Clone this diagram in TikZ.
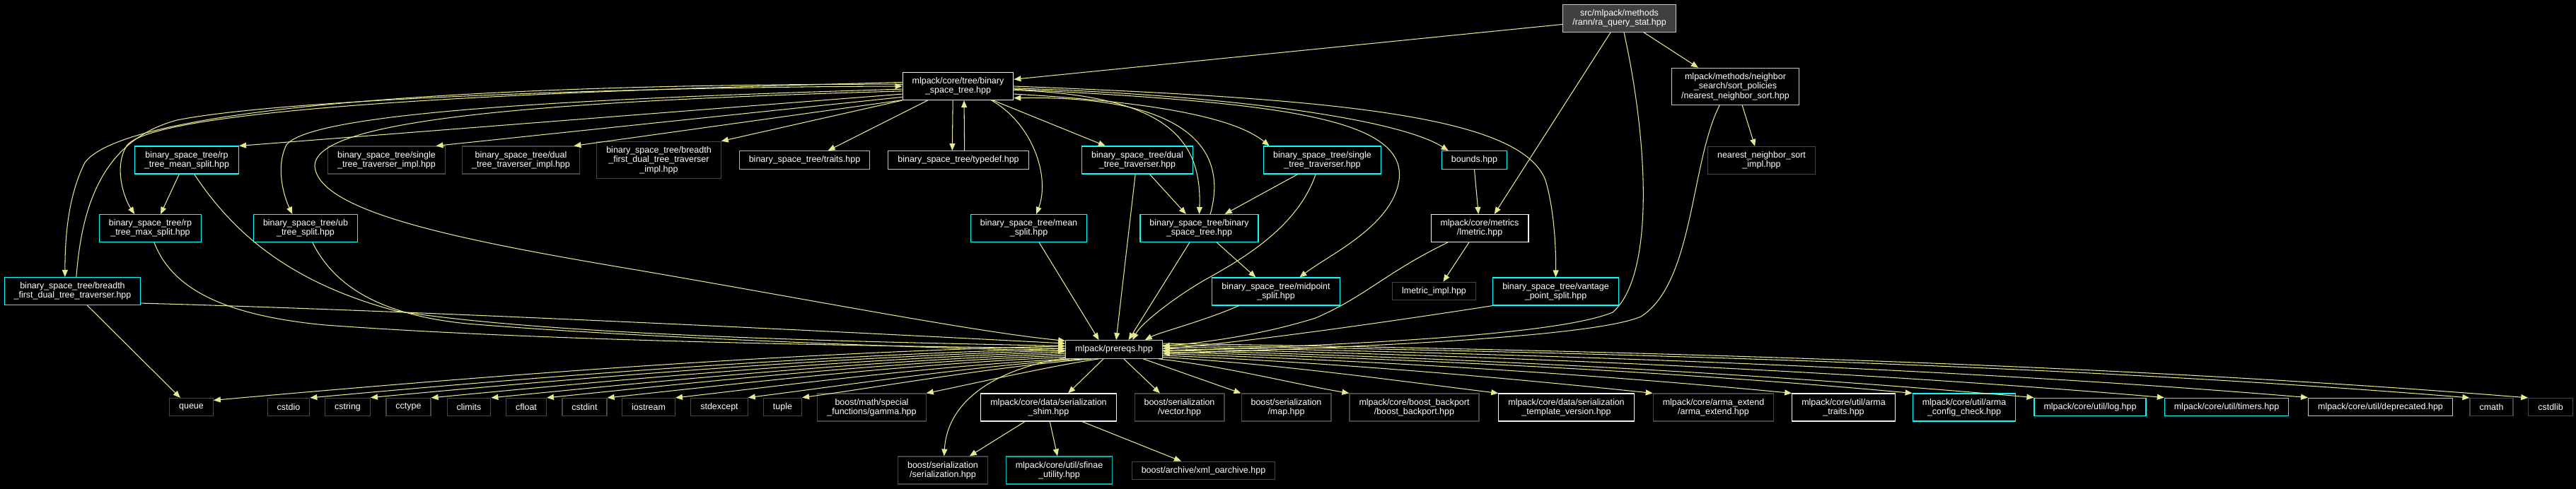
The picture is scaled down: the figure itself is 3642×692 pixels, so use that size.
\documentclass[tikz,border=0pt]{standalone}
\usepackage{fontspec}
\setmainfont{Liberation Sans}
\usepackage{tikz}
\usetikzlibrary{arrows.meta}
\definecolor{edgekhaki}{RGB}{232,232,144}
\definecolor{borddark} {RGB}{70,70,70}
\definecolor{bordlight}{RGB}{200,200,200}
\definecolor{bordwhite}{RGB}{240,240,240}
\definecolor{bordcyan} {RGB}{0,255,255}
\definecolor{bordteal} {RGB}{0,180,180}
\definecolor{rootfill} {RGB}{64,64,64}
\newcommand{\hdrfont}{\fontsize{7.1}{7.6}\selectfont}
\tikzset{
  hdr/.style={draw=borddark,fill=black,text=white,font=\hdrfont,
              align=center,inner xsep=0.27cm,inner ysep=0.14cm,
              minimum height=0.5cm,line width=0.65pt},
  hdrcyan/.style={hdr,draw=bordcyan},
  hdrteal/.style={hdr,draw=bordteal},
  hdrlight/.style={hdr,draw=bordlight},
  hdrwhite/.style={hdr,draw=bordwhite},
  hdrroot/.style={hdr,draw=bordlight,fill=rootfill},
  inc/.style={-{Triangle[length=0.2cm,width=0.16cm]},draw=edgekhaki,
              fill=none,line width=0.6pt},
}
\begin{document}
\begin{tikzpicture}[x=0.02cm,y=-0.02cm]
  \path[use as bounding box,fill=black] (0,0) rectangle (3642,692);

  \node[hdrroot] (ra) at (2289.5,26) {src/mlpack/methods\\/rann/ra\_query\_stat.hpp};
  \node[hdrwhite] (bst) at (1354.5,122) {mlpack/core/tree/binary\\\_space\_tree.hpp};
  \node[hdrlight] (nns) at (2453.5,122.5) {mlpack/methods/neighbor\\\_search/sort\_policies\\/nearest\_neighbor\_sort.hpp};
  \node[hdr] (nnsimpl) at (2490.5,227) {nearest\_neighbor\_sort\\\_impl.hpp};

  \node[hdrcyan] (rpmean) at (264,226.5) {binary\_space\_tree/rp\\\_tree\_mean\_split.hpp};
  \node[hdr] (stimpl) at (546.5,226.5) {binary\_space\_tree/single\\\_tree\_traverser\_impl.hpp};
  \node[hdr] (dtimpl) at (736.5,226.5) {binary\_space\_tree/dual\\\_tree\_traverser\_impl.hpp};
  \node[hdr] (bfimpl) at (931.5,226.5) {binary\_space\_tree/breadth\\\_first\_dual\_tree\_traverser\\\_impl.hpp};
  \node[hdrcyan] (traits) at (1137.5,226.5) {binary\_space\_tree/traits.hpp};
  \node[hdrlight] (typedef) at (1355,226.5) {binary\_space\_tree/typedef.hpp};
  \node[hdrcyan] (dtt) at (1608,226.5) {binary\_space\_tree/dual\\\_tree\_traverser.hpp};
  \node[hdrcyan] (stt) at (1869.5,226.5) {binary\_space\_tree/single\\\_tree\_traverser.hpp};
  \node[hdrcyan] (bounds) at (2084.5,226.5) {bounds.hpp};

  \node[hdrcyan] (rpmax) at (212.5,323) {binary\_space\_tree/rp\\\_tree\_max\_split.hpp};
  \node[hdrcyan] (ub) at (432,323) {binary\_space\_tree/ub\\\_tree\_split.hpp};
  \node[hdrcyan] (meansplit) at (1454.5,323) {binary\_space\_tree/mean\\\_split.hpp};
  \node[hdrcyan] (bstbst) at (1695.5,323) {binary\_space\_tree/binary\\\_space\_tree.hpp};
  \node[hdrwhite] (lmetric) at (2092,323) {mlpack/core/metrics\\/lmetric.hpp};

  \node[hdrcyan] (bf) at (102.5,412) {binary\_space\_tree/breadth\\\_first\_dual\_tree\_traverser.hpp};
  \node[hdrcyan] (midpoint) at (1804,412.5) {binary\_space\_tree/midpoint\\\_split.hpp};
  \node[hdr] (lmetricimpl) at (2027.5,412) {lmetric\_impl.hpp};
  \node[hdrcyan] (vantage) at (2199.5,412.5) {binary\_space\_tree/vantage\\\_point\_split.hpp};

  \node[hdrlight] (prereqs) at (1575,494.5) {mlpack/prereqs.hpp};

  \node[hdr] (queue) at (270.5,576) {queue};
  \node[hdr] (cstdio) at (408,576) {cstdio};
  \node[hdr] (cstring) at (491.5,576) {cstring};
  \node[hdr] (cctype) at (577.5,576) {cctype};
  \node[hdr] (climits) at (663,576) {climits};
  \node[hdr] (cfloat) at (744,576) {cfloat};
  \node[hdr] (cstdint) at (826.5,576) {cstdint};
  \node[hdr] (iostream) at (917,576) {iostream};
  \node[hdr] (stdexcept) at (1017,576) {stdexcept};
  \node[hdr] (tuple) at (1106.5,576) {tuple};
  \node[hdr] (gamma) at (1232.5,576.5) {boost/math/special\\\_functions/gamma.hpp};
  \node[hdrwhite] (shim) at (1482.5,576.5) {mlpack/core/data/serialization\\\_shim.hpp};
  \node[hdr] (vector) at (1667.5,576.5) {boost/serialization\\/vector.hpp};
  \node[hdr] (map) at (1818.5,576.5) {boost/serialization\\/map.hpp};
  \node[hdr] (backport) at (1999.5,576.5) {mlpack/core/boost\_backport\\/boost\_backport.hpp};
  \node[hdrwhite] (tmplver) at (2214.5,576.5) {mlpack/core/data/serialization\\\_template\_version.hpp};
  \node[hdr] (armaext) at (2422.5,576.5) {mlpack/core/arma\_extend\\/arma\_extend.hpp};
  \node[hdrwhite] (armatraits) at (2606.5,576.5) {mlpack/core/util/arma\\\_traits.hpp};
  \node[hdrcyan] (armacfg) at (2777,576.5) {mlpack/core/util/arma\\\_config\_check.hpp};
  \node[hdrcyan] (log) at (2955,576) {mlpack/core/util/log.hpp};
  \node[hdrcyan] (timers) at (3148,576) {mlpack/core/util/timers.hpp};
  \node[hdrlight] (deprecated) at (3365.5,576) {mlpack/core/util/deprecated.hpp};
  \node[hdr] (cmath) at (3522.5,576) {cmath};
  \node[hdr] (cstdlib) at (3606,576) {cstdlib};

  \node[hdr] (sershp) at (1333,665.5) {boost/serialization\\/serialization.hpp};
  \node[hdrteal] (sfinae) at (1497.5,665.5) {mlpack/core/util/sfinae\\\_utility.hpp};
  \node[hdr] (xml) at (1701.5,666) {boost/archive/xml\_oarchive.hpp};

  \draw[inc] (ra.186) -- (bst.7);
  \draw[inc] (ra.238) -- (lmetric.44);
  \draw[inc] (ra.-30) -- (nns.153);
  \draw[inc] (ra.288) .. controls (2330,200) and (2340,390) .. (2280,442)
             .. controls (2200,475) and (1900,488) .. (prereqs.-2);
  \draw[inc] (nns.-70) -- (nnsimpl.115);
  \draw[inc] (nns.230) .. controls (2390,230) and (2395,400) .. (2320,448)
             .. controls (2250,478) and (1900,492) .. (prereqs.-5);

  \draw[inc] (bst.188) -- (rpmean.north east);
  \draw[inc] (bst.191) -- (stimpl.16);
  \draw[inc] (bst.194) -- (dtimpl.15);
  \draw[inc] (bst.south west) -- (bfimpl.north east);
  \draw[inc] (bst.205) -- (traits.22);
  \draw[inc] (bst.250) -- (typedef.123);
  \draw[inc] (typedef.57) -- (bst.293);
  \draw[inc] (bst.-23) .. controls (1460,175) and (1485,250) .. (meansplit.62);
  \draw[inc] (bst.-22) -- (dtt.156);
  \draw[inc] (bst.-4) .. controls (1640,135) and (1700,190) .. (bstbst.north);
  \draw[inc] (bstbst.52) .. controls (1740,200) and (1660,135) .. (bst.-12);
  \draw[inc] (bst.-8) .. controls (1650,145) and (1750,170) .. (stt.165);
  \draw[inc] (bst.-2) .. controls (1750,135) and (1980,170) .. (bounds.160);
  \draw[inc] (bst.-3) .. controls (1800,145) and (1990,165) .. (1978,255)
             .. controls (1968,320) and (1880,360) .. (midpoint.31);
  \draw[inc] (bst.0) .. controls (1900,140) and (2150,165) .. (2185,255)
             .. controls (2197,295) and (2200,350) .. (vantage.north);
  \draw[inc] (bst.176) .. controls (800,128) and (230,150) .. (180,205)
             .. controls (160,235) and (175,280) .. (rpmax.138);
  \draw[inc] (bst.183) .. controls (800,140) and (440,160) .. (405,205)
             .. controls (390,235) and (400,275) .. (ub.133);
  \draw[inc] (bst.178) .. controls (700,118) and (180,150) .. (120,230)
             .. controls (95,280) and (92,340) .. (bf.118);
  \draw[inc] (bf.75) .. controls (115,300) and (140,200) .. (250,170)
             .. controls (400,140) and (900,123) .. (bst.180);
  \draw[inc] (bst.185) .. controls (700,145) and (445,175) .. (445,235)
             .. controls (450,300) and (650,340) .. (900,382)
             .. controls (1150,425) and (1380,470) .. (prereqs.170);

  \draw[inc] (rpmean.242) -- (rpmax.54);
  \draw[inc] (rpmean.-62) .. controls (330,330) and (410,400) .. (560,440)
             .. controls (800,478) and (1300,485) .. (prereqs.176);
  \draw[inc] (rpmax.-75) .. controls (240,400) and (300,445) .. (460,460)
             .. controls (800,485) and (1300,490) .. (prereqs.179);
  \draw[inc] (ub.-64) .. controls (470,400) and (530,445) .. (660,458)
             .. controls (900,478) and (1300,492) .. (prereqs.182);
  \draw[inc] (bf.-10) .. controls (600,440) and (1200,470) .. (prereqs.173);
  \draw[inc] (bf.-44) -- (queue.140);

  \draw[inc] (meansplit.-54) -- (prereqs.148);
  \draw[inc] (dtt.-98) -- (prereqs.77);
  \draw[inc] (dtt.-49) -- (bstbst.133);
  \draw[inc] (bstbst.236) -- (prereqs.33);
  \draw[inc] (bstbst.-39) -- (midpoint.145);
  \draw[inc] (stt.210) -- (bstbst.29);
  \draw[inc] (stt.245) .. controls (1835,320) and (1760,365) .. (1700,398)
             .. controls (1650,428) and (1612,460) .. (prereqs.27);
  \draw[inc] (midpoint.201) .. controls (1700,455) and (1640,470) .. (prereqs.17);
  \draw[inc] (bounds.south) -- (lmetric.95);
  \draw[inc] (lmetric.233) -- (lmetricimpl.46);
  \draw[inc] (lmetric.204) .. controls (1960,385) and (1930,420) .. (1860,450)
             .. controls (1780,475) and (1700,485) .. (prereqs.4);
  \draw[inc] (vantage.south west) .. controls (2000,450) and (1760,485) .. (prereqs.1);

  \draw[inc] (prereqs.176) .. controls +(-420,10) and +(360,-32) .. (queue.17);
  \foreach \n/\L/\a in {cstdio/1070/179,cstring/985/181,cctype/899/183,
      climits/814/185,cfloat/736/187,cstdint/650/189,iostream/554/192,
      stdexcept/450/197,tuple/375/203,gamma/197/212}
    \draw[inc] (prereqs.\a) .. controls +(-0.35*\L,10) and +(0.3*\L,-0.02*\L-8) .. (\n.north east);
  \foreach \n/\L/\a in {backport/263/-12,tmplver/474/-9,armaext/694/-7,
      armatraits/890/-5,armacfg/1061/-3,log/1232/-1,timers/1416/1,
      deprecated/1619/3,cmath/1850/5,cstdlib/1933/7}
    \draw[inc] (prereqs.\a) .. controls +(0.35*\L,10) and +(-0.3*\L,-0.02*\L-8) .. (\n.north west);
  \draw[inc] (prereqs.222) -- (shim.36);
  \draw[inc] (prereqs.-44) -- (vector.144);
  \draw[inc] (prereqs.-18) -- (map.north west);
  \draw[inc] (prereqs.190) .. controls (1420,520) and (1340,560) .. (sershp.85);

  \draw[inc] (shim.211) -- (sershp.28);
  \draw[inc] (shim.-85) -- (sfinae.97);
  \draw[inc] (shim.-23) -- (xml.157);
\end{tikzpicture}
\end{document}
